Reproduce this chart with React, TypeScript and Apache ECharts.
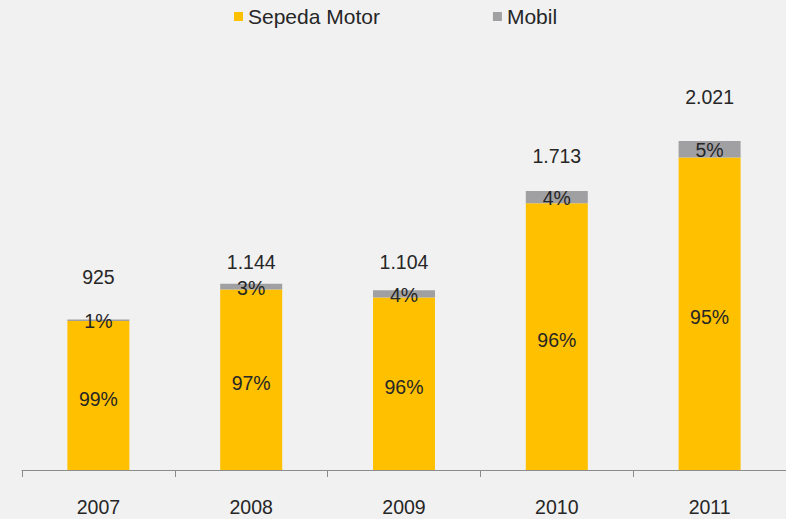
import React, { useEffect, useRef } from "react";
import * as echarts from "echarts";

const years = ["2007", "2008", "2009", "2010", "2011"];
const motor = [915, 1109, 1060, 1638, 1920];
const mobil = [10, 35, 44, 75, 101];
const motorPct = ["99%", "97%", "96%", "96%", "95%"];
const mobilPct = ["1%", "3%", "4%", "4%", "5%"];
const totals = ["925", "1.144", "1.104", "1.713", "2.021"];

const totalGap = [32, 12, 18, 25, 34];

export default function App() {
  const ref = useRef<HTMLDivElement>(null);
  useEffect(() => {
    if (!ref.current) return;
    const chart = echarts.init(ref.current, null, { renderer: "svg" });
    const font = "Liberation Sans, Arial, sans-serif";
    const txt = "#262626";
    chart.setOption({
      animation: false,
      backgroundColor: "#F1F1F1",
      textStyle: { fontFamily: font },
      legend: {
        top: 1,
        left: 229,
        itemWidth: 9,
        itemHeight: 9,
        itemGap: 113,
        icon: "rect",
        textStyle: { fontSize: 21, color: txt, fontFamily: font, padding: [0, 0, 0, 0] },
        data: ["Sepeda Motor", "Mobil"],
      },
      grid: { left: 22, right: -2, top: 63, bottom: 49 },
      xAxis: {
        type: "category",
        data: years,
        axisLine: { lineStyle: { color: "#8C8C8C", width: 1 } },
        axisTick: { show: true, length: 7, lineStyle: { color: "#8C8C8C" } },
        axisLabel: { fontSize: 19.5, color: txt, margin: 27, fontFamily: font },
      },
      yAxis: {
        type: "value",
        min: 0,
        max: 2500,
        show: false,
        splitLine: { show: false },
      },
      series: [
        {
          name: "Sepeda Motor",
          type: "bar",
          stack: "t",
          barWidth: 62,
          itemStyle: { color: "#FFC000" },
          data: motor,
          label: {
            show: true,
            position: "inside",
            offset: [0, 3],
            fontSize: 19.5,
            color: txt,
            fontFamily: font,
            formatter: (p: any) => motorPct[p.dataIndex],
          },
        },
        {
          name: "Mobil",
          type: "bar",
          stack: "t",
          barWidth: 62,
          itemStyle: { color: "#A0A0A2" },
          data: mobil.map((v, i) => ({
            value: v,
            label: {
              show: true,
              position: "top",
              distance: totalGap[i],
              formatter: totals[i],
              fontSize: 19.5,
              color: txt,
              fontFamily: font,
            },
          })),
        },
      ],
    });
    const g = years.map((y, i) => {
      const top = chart.convertToPixel({ seriesIndex: 1 }, [i, motor[i] + mobil[i]]);
      const bot = chart.convertToPixel({ seriesIndex: 1 }, [i, motor[i]]);
      return {
        type: "text",
        z: 100,
        x: top[0],
        y: (top[1] + bot[1]) / 2 + 1,
        style: {
          text: mobilPct[i],
          fontSize: 19.5,
          fill: txt,
          fontFamily: font,
          align: "center",
          verticalAlign: "middle",
        },
      };
    });
    chart.setOption({ graphic: g });
    return () => chart.dispose();
  }, []);
  return <div ref={ref} style={{ width: 786, height: 519, position: "fixed", left: 0, top: 0 }} />;
}
